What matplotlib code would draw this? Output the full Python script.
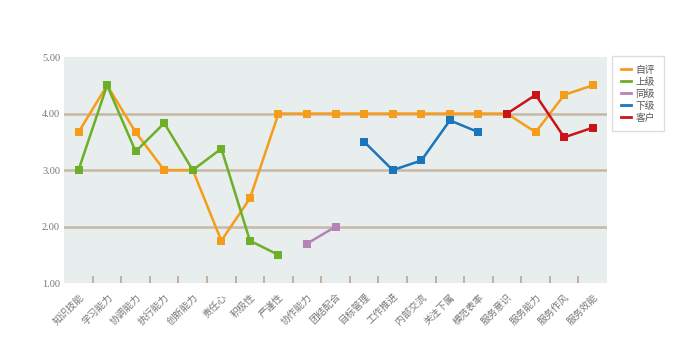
import numpy as np
import matplotlib.pyplot as plt

plt.rcParams['font.family'] = ['Noto Sans CJK SC', 'DejaVu Sans']

# 评估项目
items = ["知识技能", "学习能力", "协调能力", "执行能力", "创新能力", "责任心", "积极性",
         "严谨性", "协作能力", "团结配合", "目标管理", "工作推进", "内部交流", "关注下属",
         "模范表率", "服务意识", "服务能力", "服务作风", "服务效能"]

nan = np.nan
self_eval = [3.67, 4.5, 3.67, 3.0, 3.0, 1.75, 2.5, 4.0, 4.0, 4.0, 4.0, 4.0, 4.0, 4.0,
             4.0, 4.0, 3.67, 4.33, 4.5]
superior = [3.0, 4.5, 3.33, 3.83, 3.0, 3.38, 1.75, 1.5, nan, nan, nan, nan, nan, nan,
            nan, nan, nan, nan, nan]
peer = [nan] * 8 + [1.7, 2.0] + [nan] * 9
subordinate = [nan] * 10 + [3.5, 3.0, 3.17, 3.88, 3.67] + [nan] * 4
customer = [nan] * 15 + [4.0, 4.33, 3.58, 3.75]

series = [("自评", self_eval, "#f59d1a"),
          ("上级", superior, "#6bb026"),
          ("同级", peer, "#b683b8"),
          ("下级", subordinate, "#1b75bb"),
          ("客户", customer, "#cc1418")]

fig = plt.figure(figsize=(6.76, 3.5), dpi=100)
ax = fig.add_axes([0.095, 0.191, 0.803, 0.646])
ax.set_facecolor("#e8eded")

x = np.arange(len(items))
for name, vals, color in series:
    ax.plot(x, vals, color=color, lw=1.8, marker="s", markersize=5.5,
            markeredgewidth=0, label=name, zorder=3)

for y in [2, 3, 4]:
    ax.axhline(y, color="#c6b7a6", lw=1.8, zorder=1)

ax.set_xlim(-0.5, len(items) - 0.5)
ax.set_ylim(1, 5)
ax.set_yticks([1, 2, 3, 4, 5])
ax.set_yticklabels(["%.2f" % v for v in [1, 2, 3, 4, 5]],
                   fontsize=7.5, color="#777777", family="Liberation Serif")
ax.set_xticks(x)
ax.set_xticklabels(items, rotation=45, ha="right", rotation_mode="anchor",
                   fontsize=7, color="#777777")
ax.set_xticks(np.arange(0.5, len(items) - 1, 1), minor=True)
ax.tick_params(axis="x", which="major", length=0, pad=6)
ax.tick_params(axis="x", which="minor", direction="in", length=5, width=1.2,
               color="#b8a898")
ax.tick_params(axis="y", length=0, pad=3)
for s in ax.spines.values():
    s.set_visible(False)

leg = ax.legend(loc="upper left", bbox_to_anchor=(1.009, 1.004), fontsize=7,
                handlelength=1.1, labelspacing=0.2, handletextpad=0.4,
                borderpad=0.9, borderaxespad=0, fancybox=False,
                edgecolor="#dddddd", framealpha=1)
for line in leg.get_lines():
    line.set_marker("")
    line.set_linewidth(2)
for t in leg.get_texts():
    t.set_color("#555555")

fig.savefig("out.png", dpi=100)
